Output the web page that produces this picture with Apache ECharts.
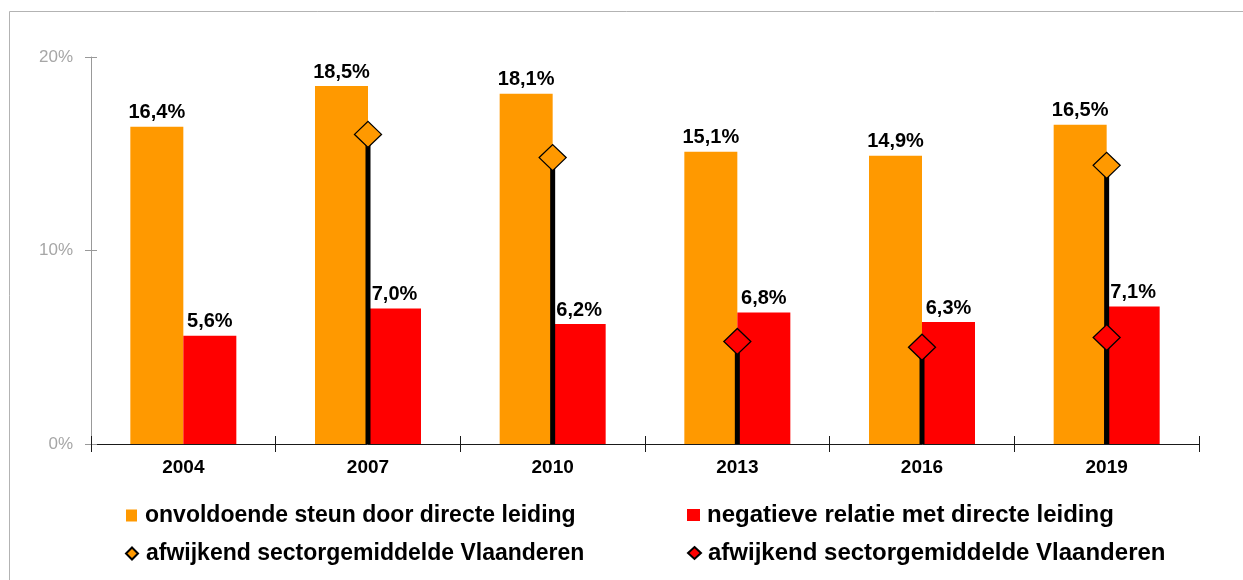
<!DOCTYPE html>
<html>
<head>
<meta charset="utf-8">
<script src="https://cdn.jsdelivr.net/npm/echarts@6/dist/echarts.min.js"></script>
<style>
html,body{margin:0;padding:0;background:#fff;}
#chart{width:1243px;height:580px;}
</style>
</head>
<body>
<div id="chart"></div>
<script>
const categories = ['2004', '2007', '2010', '2013', '2016', '2019'];
const steunValues = [16.4, 18.5, 18.1, 15.1, 14.9, 16.5];
const relatieValues = [5.6, 7.0, 6.2, 6.8, 6.3, 7.1];
const steunSector = [null, 16.0, 14.8, null, null, 14.4];
const relatieSector = [null, null, null, 5.3, 5.0, 5.5];
const yTicks = [0, 10, 20];

const nameSteun = 'onvoldoende steun door directe leiding';
const nameRelatie = 'negatieve relatie met directe leiding';
const nameSector = 'afwijkend sectorgemiddelde Vlaanderen';

const FONT = '"Liberation Sans", Arial, sans-serif';
const ORANGE = '#FF9900';
const RED = '#FF0000';

function pts(arr) {
  const out = [];
  arr.forEach((v, i) => { if (v != null) out.push([i, v]); });
  return out;
}
function dropLine(params, api) {
  const top = api.coord([api.value(0), api.value(1)]);
  const bot = api.coord([api.value(0), 0]);
  return {
    type: 'line',
    shape: { x1: top[0], y1: top[1], x2: bot[0], y2: bot[1] },
    style: { stroke: '#000', lineWidth: 5 }
  };
}
const fmtVal = v => (Math.round(v * 10) / 10).toFixed(1).replace('.', ',') + '%';

const barLabel = {
  show: true, position: 'top', distance: 4,
  fontFamily: FONT, fontWeight: 'bold', fontSize: 20, color: '#000',
  formatter: p => fmtVal(p.value)
};

const legendTextL = { fontFamily: FONT, fontWeight: 'bold', fontSize: 23, color: '#000', padding: [0, 0, 0, 3] };
const legendTextR = { fontFamily: FONT, fontWeight: 'bold', fontSize: 24, color: '#000', padding: [0, 0, 0, 2] };
const legendNames = { steun: nameSteun, relatie: nameRelatie, sectorO: nameSector, sectorR: nameSector };
const legendBase = { padding: 0, formatter: n => legendNames[n], selectedMode: false };

const chart = echarts.init(document.getElementById('chart'), null, { renderer: 'canvas' });
chart.setOption({
  animation: false,
  backgroundColor: '#fff',
  graphic: [{
    type: 'polyline',
    shape: { points: [[9.5, 580], [9.5, 11.5], [1243, 11.5]] },
    style: { stroke: '#b3b3b3', lineWidth: 1, fill: null },
    silent: true
  }],
  grid: { left: 91, right: 44, top: 57, bottom: 136, containLabel: false },
  legend: [
    Object.assign({ left: 126, top: 504, data: [{ name: 'steun', icon: 'rect' }], itemWidth: 11, itemHeight: 12, textStyle: legendTextL }, legendBase),
    Object.assign({ left: 687, top: 503, data: [{ name: 'relatie', icon: 'rect' }], itemWidth: 13, itemHeight: 12, textStyle: legendTextR }, legendBase),
    Object.assign({ left: 125, top: 542, data: [{ name: 'sectorO', icon: 'diamond' }], itemWidth: 12, itemHeight: 12, textStyle: legendTextL }, legendBase),
    Object.assign({ left: 687, top: 541, data: [{ name: 'sectorR', icon: 'diamond' }], itemWidth: 13, itemHeight: 12, textStyle: legendTextR }, legendBase)
  ],
  xAxis: [{
    type: 'category', data: categories, boundaryGap: true,
    axisLine: { show: true, lineStyle: { color: '#1a1a1a', width: 1 } },
    axisTick: { show: true, inside: false, length: 8, alignWithLabel: false, lineStyle: { color: '#1a1a1a' } },
    axisLabel: { fontFamily: FONT, fontWeight: 'bold', fontSize: 19, color: '#000', margin: 14 },
    splitLine: { show: false }
  }, {
    type: 'category', data: categories, boundaryGap: true, position: 'bottom', offset: 0,
    axisLine: { show: false },
    axisTick: { show: true, inside: true, length: 8, lineStyle: { color: '#1a1a1a' } },
    axisLabel: { show: false },
    splitLine: { show: false }
  }],
  yAxis: [{
    type: 'value', min: 0, max: 20, interval: 10,
    axisLine: { show: true, lineStyle: { color: '#999', width: 1 } },
    axisTick: { show: true, inside: false, length: 6, lineStyle: { color: '#999' } },
    axisLabel: { fontFamily: FONT, fontSize: 17, color: '#a6a6a6', margin: 18,
      formatter: v => (yTicks.indexOf(v) >= 0 ? v + '%' : '') },
    splitLine: { show: false }
  }, {
    type: 'value', min: 0, max: 20, interval: 10, position: 'left', offset: 0,
    axisLine: { show: false },
    axisTick: { show: true, inside: true, length: 6, lineStyle: { color: '#999' } },
    axisLabel: { show: false },
    splitLine: { show: false }
  }],
  series: [
    { name: 'steun', type: 'bar', data: steunValues, barWidth: 53, barGap: '0%',
      itemStyle: { color: ORANGE }, label: barLabel, z: 2 },
    { name: 'relatie', type: 'bar', data: relatieValues, barWidth: 53, barGap: '0%',
      itemStyle: { color: RED }, label: barLabel, z: 2 },
    { name: 'dropO', type: 'custom', data: pts(steunSector), renderItem: dropLine, z: 3, silent: true },
    { name: 'dropR', type: 'custom', data: pts(relatieSector), renderItem: dropLine, z: 3, silent: true },
    { name: 'sectorO', type: 'scatter', data: pts(steunSector), symbol: 'diamond', symbolSize: [27, 26],
      itemStyle: { color: ORANGE, borderColor: '#000', borderWidth: 1.3, opacity: 1 }, z: 4 },
    { name: 'sectorR', type: 'scatter', data: pts(relatieSector), symbol: 'diamond', symbolSize: [27, 26],
      itemStyle: { color: RED, borderColor: '#000', borderWidth: 1.3, opacity: 1 }, z: 4 }
  ]
});
</script>
</body>
</html>
